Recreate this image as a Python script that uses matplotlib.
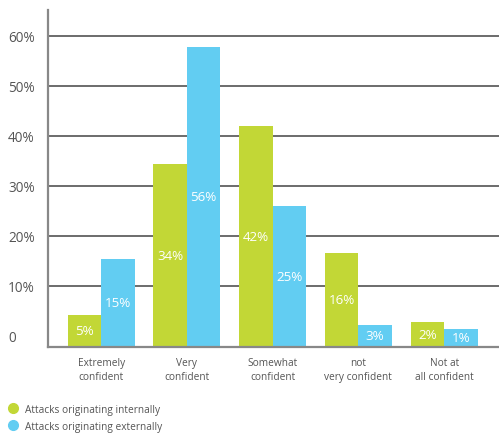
import matplotlib
matplotlib.use("Agg")
import matplotlib.pyplot as plt
from matplotlib.lines import Line2D
import numpy as np

categories = ["Extremely\nconfident", "Very\nconfident", "Somewhat\nconfident",
              "not\nvery confident", "Not at\nall confident"]
internal = [4.2, 34.5, 42.0, 16.6, 2.8]
external = [15.5, 57.8, 26.0, 2.2, 1.4]
internal_labels = ["5%", "34%", "42%", "16%", "2%"]
external_labels = ["15%", "56%", "25%", "3%", "1%"]
yticks = [0, 10, 20, 30, 40, 50, 60]
ytick_labels = ["0", "10%", "20%", "30%", "40%", "50%", "60%"]
series_names = ["Attacks originating internally", "Attacks originating externally"]

GREEN = "#C2D736"
BLUE = "#62CDF2"
GREY = "#555555"

plt.rcParams['font.family'] = ['Open Sans', 'DejaVu Sans']

fig = plt.figure(figsize=(4.99, 4.35), dpi=100)
ax = fig.add_axes([48/499, 87/435, 1 - 48/499, (348-11)/435])

ymin, ymax = -2.2, 65.2
x = np.arange(len(categories))
w = 0.39

b1 = ax.bar(x - w, np.array(internal) - ymin, bottom=ymin, width=w, align='edge',
            color=GREEN, zorder=2)
b2 = ax.bar(x, np.array(external) - ymin, bottom=ymin, width=w, align='edge',
            color=BLUE, zorder=2)
ax.bar_label(b1, labels=internal_labels, label_type='center', color='white', fontsize=9.6)
ax.bar_label(b2, labels=external_labels, label_type='center', color='white', fontsize=9.6)

for yv in yticks[1:]:
    ax.axhline(yv, color='#444444', lw=1.1, zorder=1)

ax.set_ylim(ymin, ymax)
ax.set_xlim(-0.62, 4.64)
ax.set_yticks(yticks)
ax.set_yticklabels(ytick_labels, fontsize=9.8, color=GREY, ha='left')
ax.tick_params(axis='y', length=0, pad=28.8)
ax.set_xticks(x)
ax.set_xticklabels(categories, fontsize=7.3, color=GREY, linespacing=1.45)
ax.tick_params(axis='x', length=0, pad=7)

for s in ['top', 'right']:
    ax.spines[s].set_visible(False)
for s in ['left', 'bottom']:
    ax.spines[s].set_color('#888888')
    ax.spines[s].set_linewidth(1.6)

handles = [Line2D([], [], marker='o', ls='', color=GREEN, markersize=7),
           Line2D([], [], marker='o', ls='', color=BLUE, markersize=7)]
fig.legend(handles, series_names, loc='upper left', bbox_to_anchor=(4/499, 1 - 402/435),
           frameon=False, fontsize=7.3, labelcolor=GREY, handletextpad=0.6,
           labelspacing=0.55, borderaxespad=0, handlelength=1.2, borderpad=0.3)

fig.savefig("out.png", dpi=100)
